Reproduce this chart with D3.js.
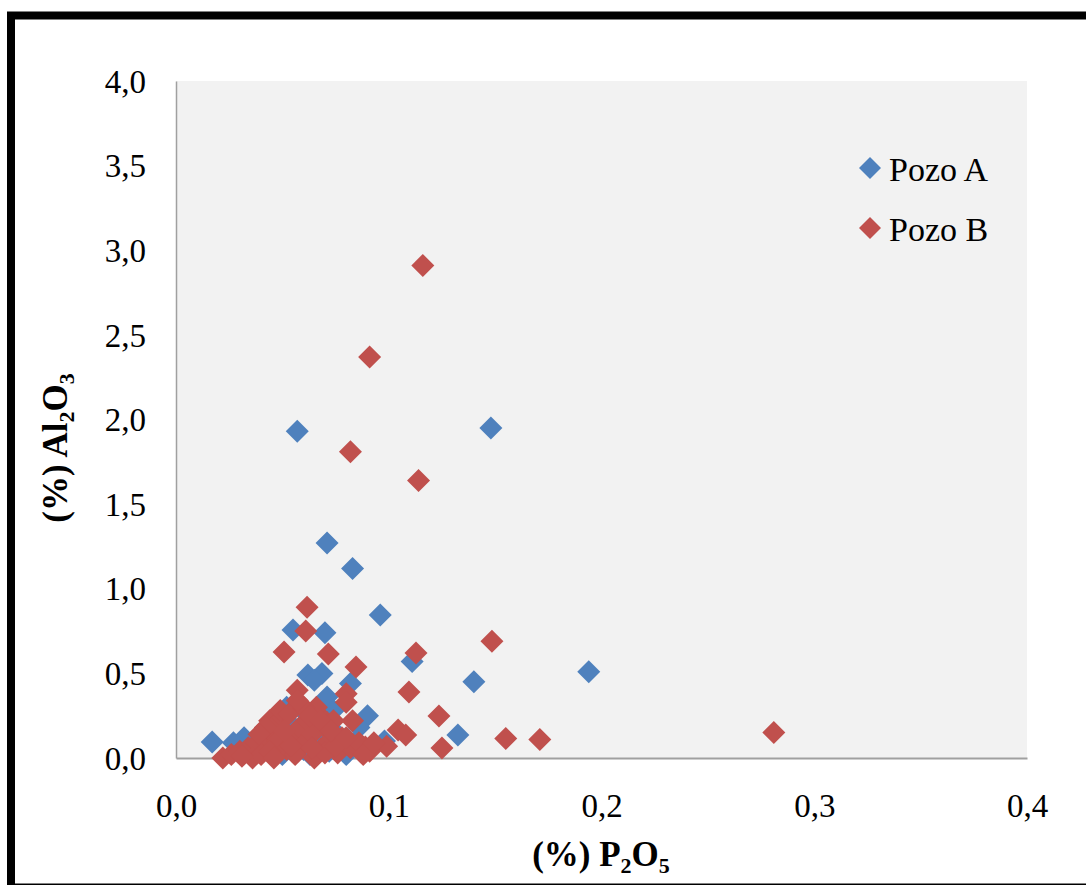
<!DOCTYPE html>
<html><head><meta charset="utf-8">
<script src="https://cdnjs.cloudflare.com/ajax/libs/d3/7.8.5/d3.min.js"></script>
<style>body{margin:0;background:#fff}svg{display:block}</style>
</head><body>
<script>
const xTicks = [0, 0.1, 0.2, 0.3, 0.4];
const yTicks = [0, 0.5, 1.0, 1.5, 2.0, 2.5, 3.0, 3.5, 4.0];
const seriesNames = ["Pozo A", "Pozo B"];
const seriesColors = ["#4F81BD", "#C0504D"];
// [P2O5 %, Al2O3 %]
const pozoA = [
 [0.017,0.095],[0.057,1.93],[0.148,1.95],[0.071,1.27],[0.083,1.12],[0.096,0.845],
 [0.055,0.756],[0.070,0.74],[0.111,0.57],[0.194,0.51],[0.140,0.45],[0.1325,0.136],
 [0.062,0.49],[0.0686,0.50],[0.065,0.46],[0.082,0.44],[0.071,0.36],[0.058,0.32],
 [0.090,0.25],[0.075,0.15],[0.085,0.10],[0.068,0.19],[0.032,0.12],[0.027,0.09],
 [0.052,0.30],[0.035,0.05],[0.040,0.03],[0.045,0.07],[0.050,0.02],[0.055,0.10],
 [0.060,0.05],[0.063,0.02],[0.066,0.08],[0.072,0.04],[0.078,0.06],[0.080,0.02],
 [0.042,0.15],[0.047,0.12],[0.086,0.18],[0.062,0.25],[0.054,0.20],[0.070,0.12],
 [0.090,0.05],[0.098,0.10],[0.074,0.28]
];
const pozoB = [
 [0.116,2.91],[0.091,2.37],[0.082,1.81],[0.114,1.64],[0.0616,0.89],[0.061,0.75],
 [0.0508,0.626],[0.0716,0.614],[0.0846,0.538],[0.1128,0.62],[0.1485,0.69],[0.1095,0.39],
 [0.1236,0.248],[0.281,0.15],[0.155,0.115],[0.171,0.11],[0.125,0.059],[0.1044,0.165],
 [0.108,0.136],[0.099,0.07],[0.057,0.40],[0.080,0.38],[0.080,0.33],[0.083,0.22],[0.091,0.04],
 [0.089,0.065],[0.071,0.21],[0.066,0.27],[0.066,0.30],[0.044,0.22],
 [0.022,0.0],[0.026,0.02],[0.030,0.04],[0.034,0.06],[0.038,0.09],[0.041,0.12],
 [0.044,0.16],[0.047,0.20],[0.050,0.24],[0.048,0.10],[0.052,0.05],[0.055,0.12],
 [0.058,0.18],[0.060,0.08],[0.062,0.22],[0.064,0.14],[0.068,0.05],[0.070,0.18],
 [0.072,0.10],[0.074,0.22],[0.076,0.03],[0.078,0.12],[0.082,0.06],[0.086,0.09],
 [0.088,0.02],[0.093,0.09],[0.036,0.0],[0.040,0.02],[0.044,0.04],[0.056,0.02],
 [0.065,0.0],[0.070,0.03],[0.046,0.0],[0.054,0.07],[0.031,0.01],[0.064,0.06],[0.075,0.07],
 [0.049,0.28],[0.053,0.26],[0.060,0.30],[0.063,0.25],[0.068,0.22],[0.057,0.34],
 [0.042,0.18],[0.039,0.14],[0.051,0.16],[0.073,0.16],[0.080,0.12]
];

const W = 1086, H = 885;
const svg = d3.select("body").append("svg").attr("width", W).attr("height", H);
const serif = "'Liberation Serif','Times New Roman',serif";

// outer frame
svg.append("rect").attr("x", 11).attr("y", 15.5).attr("width", 1200).attr("height", 872)
  .attr("fill", "none").attr("stroke", "#000").attr("stroke-width", 8);

const x = d3.scaleLinear().domain([0, 0.4]).range([176, 1027]);
const y = d3.scaleLinear().domain([0, 4]).range([758, 81]);
const fmt = v => d3.format(".1f")(v).replace(".", ",");

svg.append("rect").attr("x", x(0)).attr("y", y(4)).attr("width", x(0.4) - x(0))
  .attr("height", y(0) - y(4)).attr("fill", "#F2F2F2");

// axes
const xAxis = d3.axisBottom(x).tickValues(xTicks).tickFormat(fmt).tickSize(0).tickPadding(0);
const gx = svg.append("g").attr("transform", `translate(0,${y(0)})`).call(xAxis);
gx.select(".domain").attr("stroke", "#A0A0A0").attr("stroke-width", 2);
gx.selectAll("text").attr("font-family", serif).attr("font-size", 33).attr("fill", "#000")
  .attr("dy", null).attr("y", 59);

const yAxis = d3.axisLeft(y).tickValues(yTicks).tickFormat(fmt).tickSize(0).tickPadding(0);
const gy = svg.append("g").attr("transform", `translate(${x(0)},0)`).call(yAxis);
gy.select(".domain").attr("stroke", "#A0A0A0").attr("stroke-width", 1.5);
gy.selectAll("text").attr("font-family", serif).attr("font-size", 33).attr("fill", "#000")
  .attr("x", -30).attr("dy", "0.34em");

// markers
const diamond = r => `M0,${-r}L${r},0L0,${r}L${-r},0Z`;
[pozoA, pozoB].forEach((data, i) => {
  svg.append("g").selectAll("path").data(data).join("path")
    .attr("d", diamond(11.5))
    .attr("transform", d => `translate(${x(d[0])},${y(d[1])})`)
    .attr("fill", seriesColors[i]);
});

// legend
seriesNames.forEach((n, i) => {
  const ly = 168 + i * 60;
  svg.append("path").attr("d", diamond(11)).attr("transform", `translate(870,${ly})`)
    .attr("fill", seriesColors[i]);
  svg.append("text").attr("x", 889).attr("y", ly + 13).attr("font-family", serif)
    .attr("font-size", 34).attr("fill", "#000").text(n);
});

// axis titles
function title(sel, parts) {
  parts.forEach(p => {
    const t = sel.append("tspan").text(p.t);
    if (p.sub) t.attr("font-size", 22).attr("dy", 7);
    else if (p.after) t.attr("dy", -7);
  });
}
const xt = svg.append("text").attr("x", 601).attr("y", 866).attr("text-anchor", "middle")
  .attr("font-family", serif).attr("font-size", 35).attr("font-weight", "bold").attr("fill", "#000");
title(xt, [{t:"(%) P"},{t:"2",sub:true},{t:"O",after:true},{t:"5",sub:true}]);

const yt = svg.append("text").attr("transform", "translate(67,448) rotate(-90)")
  .attr("text-anchor", "middle")
  .attr("font-family", serif).attr("font-size", 35).attr("font-weight", "bold").attr("fill", "#000");
title(yt, [{t:"(%) Al"},{t:"2",sub:true},{t:"O",after:true},{t:"3",sub:true}]);
</script>
</body></html>
